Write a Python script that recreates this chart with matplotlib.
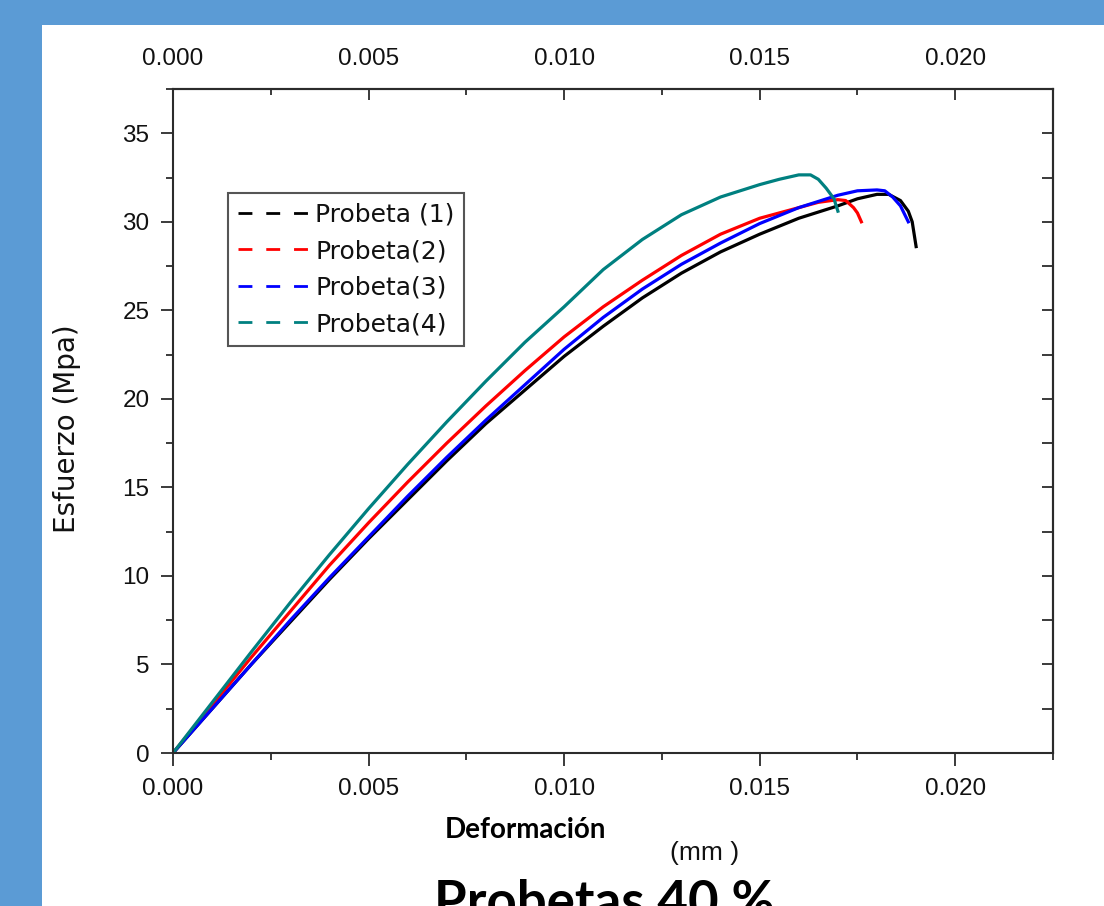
import numpy as np
import matplotlib
matplotlib.use('Agg')
import matplotlib.pyplot as plt
from matplotlib.lines import Line2D
from matplotlib.patches import Rectangle
from matplotlib.ticker import FixedLocator, MultipleLocator, FormatStrFormatter

# curves (deformation, stress)
x1 = [0, 0.001, 0.002, 0.003, 0.004, 0.005, 0.006, 0.007, 0.008, 0.009, 0.010, 0.011,
      0.012, 0.013, 0.014, 0.015, 0.016, 0.017, 0.0175, 0.018, 0.0183, 0.0186, 0.0188,
      0.0189, 0.0190]
y1 = [0, 2.5, 5.0, 7.4, 9.8, 12.1, 14.3, 16.5, 18.6, 20.5, 22.4, 24.1,
      25.7, 27.1, 28.3, 29.3, 30.2, 30.9, 31.3, 31.55, 31.55, 31.2, 30.6,
      30.0, 28.6]

x2 = [0, 0.001, 0.002, 0.003, 0.004, 0.005, 0.006, 0.007, 0.008, 0.009, 0.010, 0.011,
      0.012, 0.013, 0.014, 0.015, 0.016, 0.0165, 0.017, 0.0172, 0.0174, 0.0175, 0.0176]
y2 = [0, 2.7, 5.4, 8.0, 10.6, 13.0, 15.3, 17.5, 19.6, 21.6, 23.5, 25.2,
      26.7, 28.1, 29.3, 30.2, 30.8, 31.1, 31.25, 31.2, 30.8, 30.5, 30.0]

x3 = [0, 0.001, 0.002, 0.003, 0.004, 0.005, 0.006, 0.007, 0.008, 0.009, 0.010, 0.011,
      0.012, 0.013, 0.014, 0.015, 0.016, 0.017, 0.0175, 0.018, 0.0182, 0.0184, 0.0186,
      0.0188]
y3 = [0, 2.5, 5.0, 7.5, 9.9, 12.2, 14.5, 16.7, 18.8, 20.8, 22.8, 24.6,
      26.2, 27.6, 28.8, 29.9, 30.8, 31.5, 31.75, 31.8, 31.75, 31.4, 30.9,
      30.0]

x4 = [0, 0.001, 0.002, 0.003, 0.004, 0.005, 0.006, 0.007, 0.008, 0.009, 0.010, 0.011,
      0.012, 0.013, 0.014, 0.015, 0.0155, 0.016, 0.0163, 0.0165, 0.0167, 0.0169, 0.0170]
y4 = [0, 2.85, 5.7, 8.5, 11.2, 13.8, 16.3, 18.7, 21.0, 23.2, 25.2, 27.3,
      29.0, 30.4, 31.4, 32.1, 32.4, 32.65, 32.65, 32.4, 31.9, 31.3, 30.6]

labels = ['Probeta (1)', 'Probeta(2)', 'Probeta(3)', 'Probeta(4)']
colors = ['black', 'red', 'blue', '#008080']
series = [(x1, y1), (x2, y2), (x3, y3), (x4, y4)]
xticks = [0.000, 0.005, 0.010, 0.015, 0.020]
xminor = [0.0025, 0.0075, 0.0125, 0.0175, 0.0225]
yticks = [0, 5, 10, 15, 20, 25, 30, 35]

plt.rcParams['font.family'] = ['Liberation Sans', 'DejaVu Sans']
txt_col = '#111111'
spine_col = '#2b2b2b'

fig = plt.figure(figsize=(11.04, 9.06), dpi=100)
fig.patch.set_facecolor('#5b9bd5')
# white page behind everything
fig.patches.append(Rectangle((42 / 1104, 0), 1 - 42 / 1104, 1 - 25 / 906,
                             transform=fig.transFigure, facecolor='white',
                             edgecolor='none', zorder=-10))

ax = fig.add_axes([173 / 1104, 1 - 753 / 906, 880 / 1104, 664 / 906])
ax.set_zorder(5)
ax.patch.set_alpha(0)
for (xs, ys), c in zip(series, colors):
    ax.plot(xs, ys, color=c, lw=2.3)

ax.set_xlim(0, 0.0225)
ax.set_ylim(0, 37.5)
ax.xaxis.set_major_locator(FixedLocator(xticks))
ax.xaxis.set_minor_locator(FixedLocator(xminor))
ax.xaxis.set_major_formatter(FormatStrFormatter('%.3f'))
ax.yaxis.set_major_locator(FixedLocator(yticks))
ax.yaxis.set_minor_locator(MultipleLocator(2.5))
ax.tick_params(which='major', direction='out', length=9, width=1.3, colors=spine_col,
               labelsize=17.5, labelcolor=txt_col)
ax.tick_params(which='minor', direction='out', length=5, width=1.3, colors=spine_col)
ax.tick_params(axis='x', which='major', pad=9)
ax.tick_params(axis='y', which='major', pad=8)
for s in ax.spines.values():
    s.set_linewidth(1.5)
    s.set_color(spine_col)

# top and right axes with inward ticks
top = ax.secondary_xaxis('top')
top.xaxis.set_major_locator(FixedLocator(xticks))
top.xaxis.set_minor_locator(FixedLocator(xminor))
top.xaxis.set_major_formatter(FormatStrFormatter('%.3f'))
top.tick_params(which='major', direction='in', length=8, width=1.3, colors=spine_col,
                labelsize=17.5, labelcolor=txt_col, pad=14)
top.tick_params(which='minor', direction='in', length=4.5, width=1.3, colors=spine_col)
top.spines['top'].set_linewidth(1.5)
top.spines['top'].set_color(spine_col)

right = ax.secondary_yaxis('right')
right.yaxis.set_major_locator(FixedLocator(yticks))
right.yaxis.set_minor_locator(MultipleLocator(2.5))
right.tick_params(which='both', direction='in', length=8, width=1.3, colors=spine_col,
                  labelright=False)
right.spines['right'].set_linewidth(1.5)
right.spines['right'].set_color(spine_col)

fig.text(67 / 1104, 1 - 429 / 906, 'Esfuerzo (Mpa)', family=['DejaVu Sans'],
         fontsize=20, rotation=90, ha='center', va='center', color=txt_col)

handles = [Line2D([], [], color=c, lw=2, ls=(0, (5, 5))) for c in colors]
leg = ax.legend(handles, labels, loc='upper left', bbox_to_anchor=(0.0625, 0.843),
                borderaxespad=0, prop={'family': 'DejaVu Sans', 'size': 18},
                frameon=True, fancybox=False, edgecolor=spine_col,
                handlelength=2.8, handletextpad=0.3, labelspacing=0.5, borderpad=0.38)
leg.get_frame().set_linewidth(1.5)
for t in leg.get_texts():
    t.set_color(txt_col)

fig.text(525 / 1104, 1 - 830 / 906, 'Deformación', family=['Lato', 'DejaVu Sans'],
         fontweight='bold', fontsize=20, ha='center', va='center', color='black')
fig.text(705 / 1104, 1 - 853 / 906, '(mm )', fontsize=19, ha='center', va='center',
         color=txt_col)
# big caption, cut by the bottom edge as in the source image
fig.text(604 / 1104, -13 / 906, 'Probetas 40 %', family=['Lato', 'DejaVu Sans'],
         fontweight='bold', fontsize=38, ha='center', va='baseline', color='black')

plt.savefig('out.png', dpi=100, facecolor=fig.get_facecolor())
